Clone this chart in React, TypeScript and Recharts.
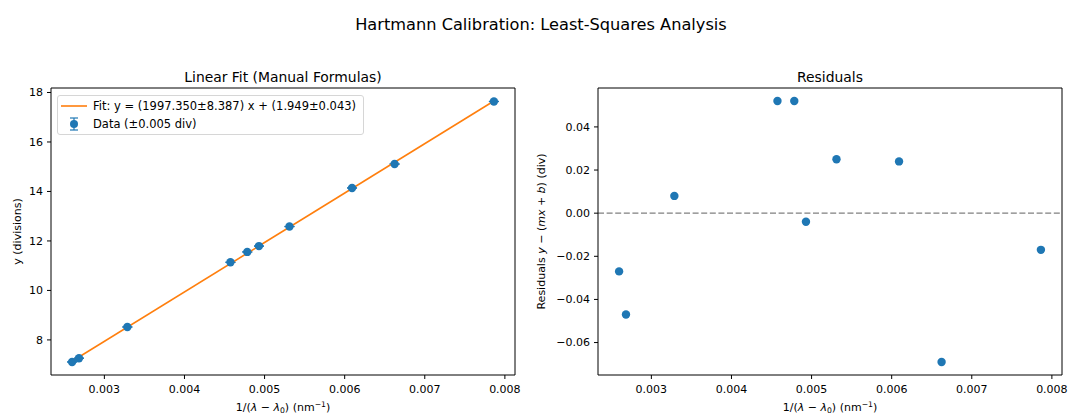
import React from "react";
import {
  ScatterChart,
  Scatter,
  XAxis,
  YAxis,
  ErrorBar,
  ReferenceLine,
  Legend,
  Label,
} from "recharts";

// measured points (x = 1/(lambda - lambda0) in nm^-1, y in divisions)
const invWavelength = [
  0.002597, 0.002683, 0.003287, 0.004574, 0.004784, 0.00493, 0.005311,
  0.006092, 0.006623, 0.007863,
];
const divisions = [
  7.109, 7.261, 8.522, 11.137, 11.556, 11.792, 12.582, 14.141, 15.108, 17.637,
];
const residuals = [
  -0.027, -0.047, 0.008, 0.052, 0.052, -0.004, 0.025, 0.024, -0.069, -0.017,
];
const yError = 0.005;

// fitted line end points
const fitX = [0.002597, 0.007863];
const fitY = [7.136, 17.654];

const xTicks = [0.003, 0.004, 0.005, 0.006, 0.007, 0.008];
const fitTicks = [8, 10, 12, 14, 16, 18];
const residTicks = [-0.06, -0.04, -0.02, 0, 0.02, 0.04];

const BLUE = "#1f77b4";
const ORANGE = "#ff7f0e";
const FONT = "'DejaVu Sans', sans-serif";
const TICK_FS = 11;
const LEGEND_FS = 11.5;

// matplotlib-style 5% autoscale margins
const padded = (vals: number[]): [number, number] => {
  const lo = Math.min(...vals);
  const hi = Math.max(...vals);
  const p = (hi - lo) * 0.05;
  return [lo - p, hi + p];
};

const xDomain = padded(invWavelength);
const fitDomain = padded([...divisions, ...fitY]);
const residDomain = padded(residuals);

const dataPoints = invWavelength.map((x, i) => ({ x, y: divisions[i], err: yError }));
const fitPoints = fitX.map((x, i) => ({ x, y: fitY[i] }));
const residPoints = invWavelength.map((x, i) => ({ x, y: residuals[i] }));

const fmtMinus = (s: string) => s.replace("-", "\u2212");

const tickStyle = { fill: "#000", fontSize: TICK_FS, fontFamily: FONT };

// eslint-disable-next-line @typescript-eslint/no-explicit-any
const XTitle = (props: any) => {
  const vb = props.viewBox;
  const cx = vb.x + vb.width / 2;
  return (
    <text x={cx} y={410.5} textAnchor="middle" fontSize={TICK_FS} fontFamily={FONT} fill="#000">
      <tspan>1/(</tspan>
      <tspan fontStyle="italic">λ</tspan>
      <tspan> − </tspan>
      <tspan fontStyle="italic">λ</tspan>
      <tspan fontSize={7.7} dy={2}>0</tspan>
      <tspan dy={-2}>) (nm</tspan>
      <tspan fontSize={7.7} dy={-4}>−1</tspan>
      <tspan dy={4}>)</tspan>
    </text>
  );
};

const yTitle = (cx: number, body: React.ReactNode) =>
  // eslint-disable-next-line @typescript-eslint/no-explicit-any
  (props: any) => {
    const vb = props.viewBox;
    const cy = vb.y + vb.height / 2;
    return (
      <text
        x={cx}
        y={cy}
        transform={`rotate(-90, ${cx}, ${cy})`}
        textAnchor="middle"
        dominantBaseline="central"
        fontSize={TICK_FS}
        fontFamily={FONT}
        fill="#000"
      >
        {body}
      </text>
    );
  };

const FitLegend = () => (
  <div
    style={{
      border: "1px solid #d6d6d6",
      borderRadius: 3,
      background: "rgba(255,255,255,0.8)",
      padding: "1px 4px 2px 2px",
      fontFamily: FONT,
      fontSize: LEGEND_FS,
      color: "#000",
      whiteSpace: "nowrap",
      width: 299,
    }}
  >
    <div style={{ display: "flex", alignItems: "center", height: 17.7 }}>
      <svg width={33} height={14} style={{ flexShrink: 0 }}>
        <line x1={1} x2={27} y1={7} y2={7} stroke={ORANGE} strokeWidth={1.6} />
      </svg>
      <span>Fit: y = (1997.350±8.387) x + (1.949±0.043)</span>
    </div>
    <div style={{ display: "flex", alignItems: "center", height: 17.7 }}>
      <svg width={33} height={14} style={{ flexShrink: 0 }}>
        <line x1={14} x2={14} y1={1} y2={13} stroke={BLUE} strokeWidth={1.2} />
        <line x1={10} x2={18} y1={1} y2={1} stroke={BLUE} strokeWidth={1.2} />
        <line x1={10} x2={18} y1={13} y2={13} stroke={BLUE} strokeWidth={1.2} />
        <circle cx={14} cy={7} r={4} fill={BLUE} />
      </svg>
      <span>Data (±0.005 div)</span>
    </div>
  </div>
);

// eslint-disable-next-line @typescript-eslint/no-explicit-any
const dot = (p: any) => <circle cx={p.cx} cy={p.cy} r={4.2} fill={BLUE} />;

export default function App() {
  return (
    <div
      style={{
        position: "absolute",
        left: 0,
        top: 0,
        width: 1069,
        height: 414,
        background: "#fff",
        fontFamily: FONT,
        overflow: "hidden",
      }}
    >
      <svg
        width={1069}
        height={414}
        style={{ position: "absolute", left: 0, top: 0, pointerEvents: "none" }}
      >
        <text x={541} y={29.5} textAnchor="middle" fontSize={16.2} fontFamily={FONT} fill="#000">
          Hartmann Calibration: Least-Squares Analysis
        </text>
        <text x={283} y={81.5} textAnchor="middle" fontSize={13.9} fontFamily={FONT} fill="#000">
          Linear Fit (Manual Formulas)
        </text>
        <text x={830} y={81.5} textAnchor="middle" fontSize={13.9} fontFamily={FONT} fill="#000">
          Residuals
        </text>
      </svg>

      <div style={{ position: "absolute", left: 0, top: 0 }}>
        <ScatterChart width={530} height={414} margin={{ top: 88, right: 15, bottom: 0, left: 11 }}>
          <XAxis
            type="number"
            dataKey="x"
            domain={xDomain}
            ticks={xTicks}
            interval={0}
            allowDataOverflow
            tickFormatter={(v: number) => v.toFixed(3)}
            height={39}
            tickSize={4}
            tickMargin={6}
            stroke="#000"
            tick={tickStyle}
          >
            <Label content={XTitle} />
          </XAxis>
          <YAxis
            type="number"
            dataKey="y"
            domain={fitDomain}
            ticks={fitTicks}
            interval={0}
            allowDataOverflow
            width={40}
            tickSize={4}
            tickMargin={4}
            stroke="#000"
            tick={tickStyle}
          >
            <Label content={yTitle(17, "y (divisions)")} />
          </YAxis>
          {/* top and right spines */}
          <ReferenceLine y={fitDomain[1]} stroke="#000" strokeWidth={1} />
          <ReferenceLine x={xDomain[1]} stroke="#000" strokeWidth={1} />
          <Legend
            layout="vertical"
            align="center"
            verticalAlign="middle"
            content={() => <FitLegend />}
            wrapperStyle={{ left: 57, top: 95, width: "auto", height: "auto" }}
          />
          <Scatter
            data={fitPoints}
            line={{ stroke: ORANGE, strokeWidth: 1.6 }}
            shape={() => <g />}
            legendType="none"
            isAnimationActive={false}
          />
          <Scatter data={dataPoints} shape={dot} isAnimationActive={false}>
            <ErrorBar dataKey="err" direction="y" width={5} stroke={BLUE} strokeWidth={1.2} isAnimationActive={false} />
          </Scatter>
        </ScatterChart>
      </div>

      <div style={{ position: "absolute", left: 530, top: 0 }}>
        <ScatterChart width={539} height={414} margin={{ top: 88, right: 7, bottom: 0, left: 8 }}>
          <XAxis
            type="number"
            dataKey="x"
            domain={xDomain}
            ticks={xTicks}
            interval={0}
            allowDataOverflow
            tickFormatter={(v: number) => v.toFixed(3)}
            height={39}
            tickSize={4}
            tickMargin={6}
            stroke="#000"
            tick={tickStyle}
          >
            <Label content={XTitle} />
          </XAxis>
          <YAxis
            type="number"
            dataKey="y"
            domain={residDomain}
            ticks={residTicks}
            interval={0}
            allowDataOverflow
            tickFormatter={(v: number) => fmtMinus(v.toFixed(2))}
            width={60}
            tickSize={4}
            tickMargin={4}
            stroke="#000"
            tick={tickStyle}
          >
            <Label
              content={yTitle(
                10.5,
                <>
                  <tspan>Residuals </tspan>
                  <tspan fontStyle="italic">y</tspan>
                  <tspan> − (</tspan>
                  <tspan fontStyle="italic">mx</tspan>
                  <tspan> + </tspan>
                  <tspan fontStyle="italic">b</tspan>
                  <tspan>) (div)</tspan>
                </>
              )}
            />
          </YAxis>
          <ReferenceLine y={residDomain[1]} stroke="#000" strokeWidth={1} />
          <ReferenceLine x={xDomain[1]} stroke="#000" strokeWidth={1} />
          <ReferenceLine y={0} stroke="#808080" strokeWidth={1.3} strokeDasharray="6 2.6" />
          <Scatter data={residPoints} shape={dot} isAnimationActive={false} />
        </ScatterChart>
      </div>
    </div>
  );
}
